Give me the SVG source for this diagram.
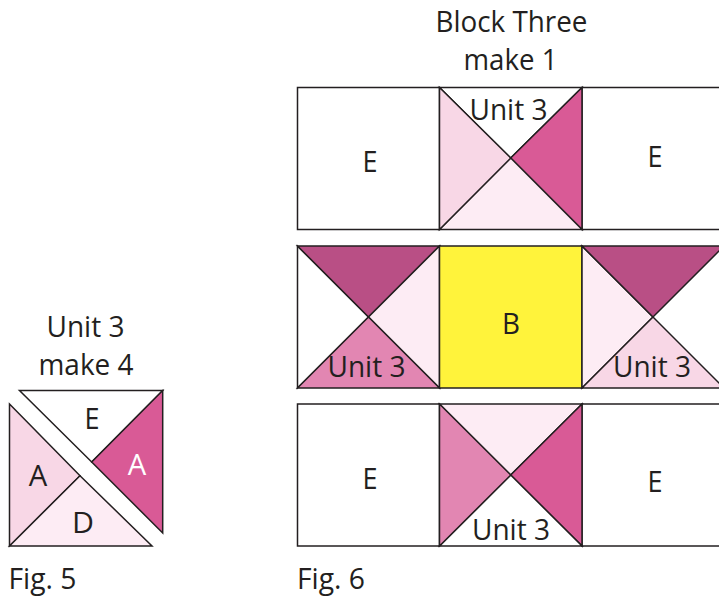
<svg xmlns="http://www.w3.org/2000/svg" width="719" height="596" viewBox="0 0 719 596">
<style>
.s{stroke:#231f20;stroke-width:1.5;stroke-linejoin:miter}
text{font-family:"Open Sans","Noto Sans","Liberation Sans",sans-serif;font-size:29px;fill:#231f20;text-anchor:middle;lengthAdjust:spacingAndGlyphs}
.w{fill:#fff}.p1{fill:#fdecf4}.p2{fill:#f8d7e6}.p3{fill:#e286b2}.p4{fill:#d95a96}.p5{fill:#b94f85}.y{fill:#fff33b}
</style>
<rect width="719" height="596" fill="#fff"/>
<g id="title-block"><text x="511.5" y="32" textLength="152" lengthAdjust="spacingAndGlyphs">Block Three</text><text x="510.5" y="70" textLength="94" lengthAdjust="spacingAndGlyphs">make 1</text></g>
<g id="title-unit"><text x="85.5" y="337" textLength="78" lengthAdjust="spacingAndGlyphs">Unit 3</text><text x="86" y="375" textLength="95" lengthAdjust="spacingAndGlyphs">make 4</text></g>
<g id="unit3-fig5">
<polygon class="s w" points="19.5,390.5 162.7,390.5 91.7,462"/>
<polygon class="s p4" points="162.7,390.5 162.7,533 91.7,462"/>
<polygon class="s p2" points="9.5,404 80,475.7 9.5,546"/>
<polygon class="s p1" points="9.5,546 80,475.7 152,546"/>
<text x="92" y="429" textLength="15" lengthAdjust="spacingAndGlyphs">E</text><text x="137" y="474.5" textLength="18.5" lengthAdjust="spacingAndGlyphs" style="fill:#fff">A</text><text x="38" y="486" textLength="18.5" lengthAdjust="spacingAndGlyphs">A</text><text x="83" y="533" textLength="22" lengthAdjust="spacingAndGlyphs">D</text>
</g>
<g id="row1">
<rect class="s w" x="297.5" y="87.5" width="142" height="142"/>
<rect class="s w" x="582" y="87.5" width="140" height="142"/>
<polygon class="s w" points="439.5,87.5 582,87.5 510.7,158"/>
<polygon class="s p4" points="582,87.5 582,229.5 510.7,158"/>
<polygon class="s p1" points="582,229.5 439.5,229.5 510.7,158"/>
<polygon class="s p2" points="439.5,229.5 439.5,87.5 510.7,158"/>
<text x="370" y="172" textLength="15" lengthAdjust="spacingAndGlyphs">E</text><text x="655" y="167" textLength="15" lengthAdjust="spacingAndGlyphs">E</text><text x="508.5" y="119.5" textLength="78" lengthAdjust="spacingAndGlyphs">Unit 3</text>
</g>
<g id="row2">
<polygon class="s w" points="297.5,246 297.5,388 368.5,317"/>
<polygon class="s p5" points="297.5,246 439.5,246 368.5,317"/>
<polygon class="s p1" points="439.5,246 439.5,388 368.5,317"/>
<polygon class="s p3" points="297.5,388 439.5,388 368.5,317"/>
<rect class="s y" x="439.5" y="246" width="142.5" height="142"/>
<polygon class="s p1" points="582,246 582,388 653,317"/>
<polygon class="s p5" points="582,246 724,246 653,317"/>
<polygon class="s p2" points="582,388 724,388 653,317"/>
<text x="366.5" y="377" textLength="78" lengthAdjust="spacingAndGlyphs">Unit 3</text><text x="511" y="334" textLength="18" lengthAdjust="spacingAndGlyphs">B</text><text x="652" y="377" textLength="78" lengthAdjust="spacingAndGlyphs">Unit 3</text>
</g>
<g id="row3">
<rect class="s w" x="297.5" y="404" width="142" height="142"/>
<rect class="s w" x="582" y="404" width="140" height="142"/>
<polygon class="s p1" points="439.5,404 582,404 510.7,475"/>
<polygon class="s p4" points="582,404 582,546 510.7,475"/>
<polygon class="s w" points="582,546 439.5,546 510.7,475"/>
<polygon class="s p3" points="439.5,546 439.5,404 510.7,475"/>
<text x="370" y="489" textLength="15" lengthAdjust="spacingAndGlyphs">E</text><text x="655" y="492" textLength="15" lengthAdjust="spacingAndGlyphs">E</text><text x="511" y="540" textLength="78" lengthAdjust="spacingAndGlyphs">Unit 3</text>
</g>
<g id="captions"><text x="42.5" y="589" textLength="68" lengthAdjust="spacingAndGlyphs">Fig. 5</text><text x="331" y="589" textLength="68" lengthAdjust="spacingAndGlyphs">Fig. 6</text></g>
</svg>
